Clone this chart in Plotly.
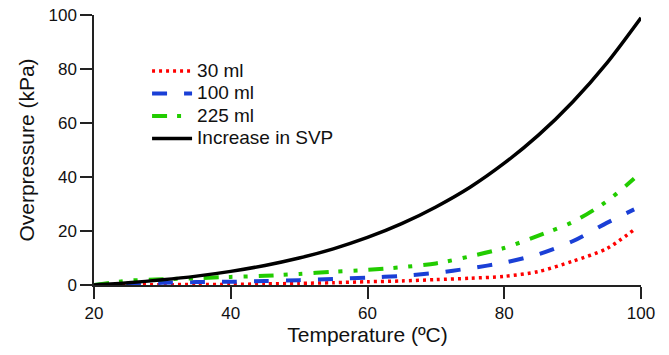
import plotly.graph_objects as go

# Temperature (ºC)
temp = [20, 25, 30, 35, 40, 45, 50, 55, 60, 65, 70, 75, 80, 85, 90, 95, 100]
temp_meas = [20, 25, 30, 35, 40, 45, 50, 55, 60, 65, 70, 75, 80, 85, 90, 95, 99]

# Overpressure (kPa)
svp_increase = [0, 0.83, 1.91, 3.29, 5.04, 7.25, 10.0, 13.4, 17.6, 22.7, 28.9, 36.2, 45.1, 55.5, 67.8, 82.2, 99.0]
ml_225 = [0, 1.6, 2.1, 2.5, 3.0, 3.4, 4.1, 4.9, 5.6, 6.6, 8.0, 10.6, 13.7, 18.3, 23.3, 31.0, 39.4]
ml_100 = [0, 0.5, 0.8, 1.1, 1.2, 1.45, 1.8, 2.25, 2.7, 3.4, 4.5, 6.2, 8.3, 11.4, 16.2, 23.0, 28.0]
ml_30 = [0, 0.05, 0.1, 0.2, 0.25, 0.4, 0.6, 0.85, 1.2, 1.5, 2.0, 2.5, 3.2, 5.0, 8.8, 13.5, 20.5]

series_names = ["30 ml", "100 ml", "225 ml", "Increase in SVP"]

FONT = "Arial, Liberation Sans, Helvetica, sans-serif"


def legend_label(s):
    return '<span style="font-size:19px">' + s + '</span>'


fig = go.Figure()
fig.add_trace(go.Scatter(x=temp_meas, y=ml_30, name=legend_label(series_names[0]), mode="lines",
                         line=dict(color="#ff0000", width=3.5, dash="3px,4px", shape="spline", smoothing=0.8),
                         cliponaxis=False))
fig.add_trace(go.Scatter(x=temp_meas, y=ml_100, name=legend_label(series_names[1]), mode="lines",
                         line=dict(color="#1a3fd6", width=4, dash="15px,17px", shape="spline", smoothing=0.8),
                         cliponaxis=False))
fig.add_trace(go.Scatter(x=temp_meas, y=ml_225, name=legend_label(series_names[2]), mode="lines",
                         line=dict(color="#22cc00", width=4, dash="15px,10px,4px,11px,4px,11px", shape="spline", smoothing=0.8),
                         cliponaxis=False))
fig.add_trace(go.Scatter(x=temp, y=svp_increase, name=legend_label(series_names[3]), mode="lines",
                         line=dict(color="#000000", width=3.5, shape="spline", smoothing=0.8),
                         cliponaxis=False))

axis_common = dict(
    showgrid=False, zeroline=False, showline=True, linecolor="#222222", linewidth=1.5,
    ticks="outside", ticklen=12, tickwidth=1.5, tickcolor="#222222",
    tickfont=dict(family=FONT, size=17, color="#111111"),
    title_font=dict(family=FONT, size=21, color="#111111"),
    automargin=False, ticklabeloverflow="allow",
)

fig.update_xaxes(range=[20, 100], tickvals=[20, 40, 60, 80, 100],
                 title_text="Temperature (ºC)", title_standoff=4, **axis_common)
fig.update_yaxes(range=[0, 100], tickvals=[0, 20, 40, 60, 80, 100],
                 title_text="Overpressure (kPa)", title_standoff=8, **axis_common)

fig.update_layout(
    width=669, height=355,
    margin=dict(l=94, r=28, t=15, b=70),
    paper_bgcolor="white", plot_bgcolor="white",
    font=dict(family=FONT, color="#111111"),
    legend=dict(x=0.097, y=0.853, xanchor="left", yanchor="top",
                font=dict(family=FONT, size=15, color="#111111"),
                bgcolor="rgba(0,0,0,0)", itemwidth=40, tracegroupgap=0),
    showlegend=True,
    hovermode=False,
)

# remove the default 8px page margin so the figure fills the window exactly
fig.write_html("out.html",
               config={"displayModeBar": False},
               post_script="document.body.style.margin='0';document.body.style.overflow='hidden';")
